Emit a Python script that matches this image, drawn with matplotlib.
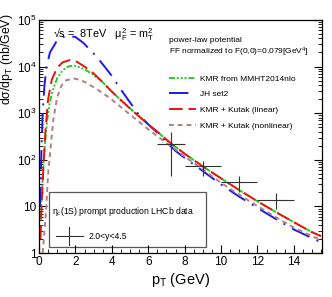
import matplotlib
matplotlib.use("Agg")
import matplotlib.pyplot as plt
from matplotlib.patches import Rectangle
import numpy as np

plt.rcParams["font.family"] = ["Liberation Sans", "DejaVu Sans"]
plt.rcParams["mathtext.fontset"] = "custom"
plt.rcParams["mathtext.rm"] = "Liberation Sans"
plt.rcParams["mathtext.it"] = "Liberation Sans:italic"
plt.rcParams["mathtext.default"] = "regular"

# --- KMR from MMHT2014nlo ---
pt_kmr = [0.05, 0.1, 0.2, 0.3, 0.45, 0.6, 0.8, 1.0, 1.3, 1.6, 1.9, 2.3, 2.9, 3.5, 4.0,
          4.5, 5.0, 5.5, 6.0, 6.5, 7.0, 7.25, 8, 9, 10, 11, 12, 13, 14, 15, 15.5]
xs_kmr = [5.8, 6.3e0, 4.0e1, 1.6e2, 7.1e2, 1.8e3, 3.5e3, 5.6e3, 8.3e3, 1.0e4, 1.05e4, 9.5e3,
          7.1e3, 4.6e3, 2.9e3, 1.9e3, 1.26e3, 8.5e2, 5.75e2, 4.0e2, 2.7e2, 2.24e2,
          1.35e2, 7.2e1, 4.0e1, 2.24e1, 1.29e1, 7.6, 4.6, 2.8, 2.3]

# --- JH set2 ---
pt_jh = [0.05, 0.12, 0.2, 0.3, 0.42, 0.6, 0.97, 1.3, 1.65, 2.0, 2.44, 3.0, 3.5, 4.0, 4.5,
         5.0, 5.5, 6.0, 6.5, 7.0, 7.5, 8, 9, 10, 11, 12, 13, 14, 15, 15.5]
xs_jh = [1.0e1, 1.0e2, 1.0e3, 4.0e3, 1.0e4, 2.0e4, 3.5e4, 4.3e4, 4.5e4, 4.3e4, 3.2e4,
         1.9e4, 1.12e4, 6.3e3, 3.2e3, 1.7e3, 9.1e2, 5.75e2, 3.8e2, 2.4e2, 1.55e2,
         1.1e2, 5.75e1, 2.95e1, 1.62e1, 9.3, 5.4, 3.2, 2.1, 1.7]

# --- KMR + Kutak (linear) ---
pt_lin = [0.08, 0.15, 0.25, 0.35, 0.5, 0.7, 1.0, 1.3, 1.7, 2.0, 2.5, 3.0, 3.5, 4.0, 4.5,
          5.0, 5.5, 6.0, 6.5, 7.0, 7.25, 8, 9, 10, 11, 12, 13, 14, 15, 15.5]
xs_lin = [2.0, 1.26e1, 7.9e1, 4.0e2, 2.0e3, 5.2e3, 9.5e3, 1.23e4, 1.38e4, 1.32e4, 1.0e4,
          7.1e3, 4.6e3, 2.9e3, 1.9e3, 1.26e3, 8.5e2, 5.75e2, 4.0e2, 2.7e2, 2.24e2,
          1.35e2, 7.2e1, 4.0e1, 2.24e1, 1.29e1, 7.6, 4.6, 2.8, 2.3]

# --- KMR + Kutak (nonlinear) ---
pt_nl = [0.2, 0.3, 0.39, 0.5, 0.66, 0.8, 1.0, 1.25, 1.5, 2.0, 2.5, 3.0, 3.5, 4.0, 4.5,
         5.0, 5.5, 6.0, 6.5, 7.0, 7.5, 8, 9, 10, 11, 12, 13, 14, 15, 15.5]
xs_nl = [1.0, 3.0, 8.5, 5.0e1, 2.3e2, 7.9e2, 2.2e3, 4.0e3, 5.1e3, 5.5e3, 4.7e3, 3.6e3,
         2.7e3, 1.95e3, 1.35e3, 9.3e2, 6.5e2, 4.5e2, 3.2e2, 2.3e2, 1.66e2, 1.17e2,
         6.2e1, 3.2e1, 1.78e1, 1.02e1, 5.9, 3.5, 2.3, 1.9]

# --- LHCb eta_c(1S) data ---
pt_data = [7.25, 9.0, 11.0, 13.0]
pt_lo = [6.5, 8.0, 10.0, 12.0]
pt_hi = [8.0, 10.0, 12.0, 14.0]
y_data = [221, 74, 33, 13.5]
y_up = [396, 95, 45, 19]
y_dn = [46, 46, 20, 8.8]

fig = plt.figure(figsize=(3.32, 2.97), dpi=100)
ax = fig.add_axes([0.1175, 0.148, 0.8525, 0.785])

ax.plot(pt_kmr, xs_kmr, color="#22cc22", lw=1.4, dashes=[3, 1, 1, 1, 1, 1, 1, 1],
        label="KMR from MMHT2014nlo")
ax.plot(pt_jh, xs_jh, color="#1a1aee", lw=1.4, dashes=[10, 4, 1, 4],
        label="JH set2")
ax.plot(pt_lin, xs_lin, color="#ee1111", lw=1.4, dashes=[7, 3],
        label="KMR + Kutak (linear)")
ax.plot(pt_nl, xs_nl, color="#b08080", lw=1.4, dashes=[2.5, 2],
        label="KMR + Kutak (nonlinear)")

xerr = [np.subtract(pt_data, pt_lo), np.subtract(pt_hi, pt_data)]
yerr = [np.subtract(y_data, y_dn), np.subtract(y_up, y_data)]
ax.errorbar(pt_data, y_data, xerr=xerr, yerr=yerr, fmt="none",
            ecolor="#333333", elinewidth=0.8, capsize=0)

ax.set_yscale("log")
ax.set_xlim(0, 15.55)
ax.set_ylim(1, 1e5)
ax.set_xticks(np.arange(0, 15, 2))
ax.set_xticks(np.arange(0, 15.6, 0.5), minor=True)
ax.set_yticks([1, 10, 100, 1000, 1e4, 1e5])
ax.set_yticklabels(["1", "10", "$10^2$", "$10^3$", "$10^4$", "$10^5$"])
ax.tick_params(which="both", direction="in", right=True, top=False, labelsize=8.5,
               pad=2)
ax.tick_params(which="major", length=6)
ax.tick_params(which="minor", length=3)
for s in ax.spines.values():
    s.set_linewidth(0.9)

ax.set_xlabel("p$_T$ (GeV)", fontsize=10.5)
ax.xaxis.set_label_coords(0.5, -0.075)
ax.set_ylabel("d$\\sigma$/dp$_T$ (nb/GeV)", fontsize=8.8)
ax.yaxis.set_label_coords(-0.085, 0.83)

ax.text(0.05, 0.975, "\u221as =  8TeV   $\\mu_F^2$ = m$_T^2$", transform=ax.transAxes,
        fontsize=7.8, va="top", ha="left")
ax.text(0.459, 0.912, "power-law potential", transform=ax.transAxes, fontsize=6,
        va="center")
ax.text(0.459, 0.862, "FF normalized to F(0,0)=0.079[GeV$^4$]", transform=ax.transAxes,
        fontsize=6, va="center")

ax.legend(loc="upper left", bbox_to_anchor=(0.44, 0.79), frameon=False, fontsize=6,
          handlelength=3.2, handletextpad=0.5, labelspacing=0.95, borderaxespad=0.3)

# data legend box
ax.add_patch(Rectangle((0.035, 0.027), 0.555, 0.235, transform=ax.transAxes,
                       fill=False, edgecolor="#555555", lw=0.9))
ax.text(0.045, 0.18, "$\\eta_c$(1S) prompt production LHCb data", transform=ax.transAxes,
        fontsize=6.2, va="center")
ax.plot([0.06, 0.155], [0.072, 0.072], transform=ax.transAxes, color="#333333", lw=0.8)
ax.plot([0.107, 0.107], [0.035, 0.11], transform=ax.transAxes, color="#333333", lw=0.8)
ax.text(0.175, 0.072, "2.0<y<4.5", transform=ax.transAxes, fontsize=6.2, va="center")

fig.savefig("out.png", dpi=100)
